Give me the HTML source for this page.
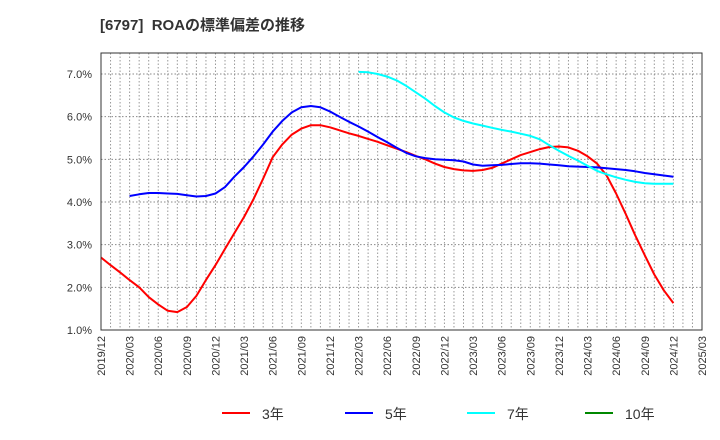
<!DOCTYPE html>
<html><head><meta charset="utf-8"><style>
body{margin:0;background:#fff;}
svg{display:block;font-family:"Liberation Sans","Noto Sans CJK JP",sans-serif;}
</style></head><body>
<svg id="chart" width="720" height="440" viewBox="0 0 720 440">
<text x="100" y="30" font-size="15" font-weight="bold" fill="#333">[6797]&#160; ROAの標準偏差の推移</text>
<g id="grid"></g>
<g id="series"></g>
<rect x="101" y="53" width="601" height="277" fill="none" stroke="#333" stroke-width="1"/>
<g id="axes"></g>
<g id="legend"></g>
</svg>
<script>
const xLabels=["2019/12","2020/03","2020/06","2020/09","2020/12","2021/03","2021/06","2021/09","2021/12","2022/03","2022/06","2022/09","2022/12","2023/03","2023/06","2023/09","2023/12","2024/03","2024/06","2024/09","2024/12","2025/03"];
const yTicks=[1,2,3,4,5,6,7];
const s3=[2.70,2.52,2.35,2.17,2.0,1.77,1.6,1.45,1.42,1.54,1.8,2.17,2.52,2.9,3.28,3.65,4.07,4.55,5.05,5.35,5.58,5.72,5.8,5.8,5.75,5.68,5.61,5.55,5.48,5.41,5.33,5.25,5.17,5.08,5.0,4.9,4.82,4.77,4.74,4.73,4.75,4.8,4.9,5.0,5.1,5.17,5.24,5.29,5.3,5.28,5.2,5.07,4.9,4.62,4.2,3.72,3.22,2.75,2.3,1.93,1.63];
const s5start=3;
const s5=[4.14,4.18,4.21,4.21,4.2,4.19,4.16,4.13,4.14,4.2,4.35,4.6,4.82,5.07,5.35,5.65,5.9,6.1,6.22,6.25,6.22,6.12,6.0,5.88,5.77,5.65,5.52,5.4,5.27,5.15,5.07,5.03,5.0,4.99,4.98,4.95,4.88,4.85,4.86,4.87,4.89,4.91,4.91,4.9,4.88,4.86,4.84,4.83,4.82,4.81,4.79,4.77,4.75,4.72,4.68,4.65,4.62,4.59];
const s7start=27;
const s7=[7.05,7.04,7.0,6.94,6.85,6.72,6.57,6.42,6.25,6.1,5.98,5.9,5.84,5.79,5.74,5.69,5.65,5.6,5.55,5.47,5.33,5.2,5.08,4.97,4.85,4.73,4.65,4.58,4.52,4.47,4.44,4.43,4.43,4.43];
const s10=[];
const NS="http://www.w3.org/2000/svg";
const L=101,R=702,T=53,B=330,months=63;
const xs=i=>L+(R-L)*i/months;
const ys=v=>B-(v-1)*(B-74)/6;
function mk(tag,attrs,parent){const e=document.createElementNS(NS,tag);for(const k in attrs)e.setAttribute(k,attrs[k]);parent.appendChild(e);return e;}
const grid=document.getElementById('grid'),axes=document.getElementById('axes'),ser=document.getElementById('series'),leg=document.getElementById('legend');
for(let i=1;i<months;i++){const l=mk('line',{x1:xs(i),x2:xs(i),y1:T,y2:B,stroke:'#999','stroke-width':1,'stroke-dasharray':'1.5,2'},grid);

}
yTicks.forEach(v=>{const l=mk('line',{x1:L,x2:R,y1:ys(v),y2:ys(v),stroke:'#888','stroke-width':1,'stroke-dasharray':'1.5,2'},grid);


const t=mk('text',{x:92,y:ys(v)+4,'text-anchor':'end','font-size':11,fill:'#333'},axes);


t.textContent=v.toFixed(1)+'%';});
xLabels.forEach((lab,k)=>{const x=xs(k*3);const t=mk('text',{transform:`translate(${x+4},336) rotate(-90)`,'text-anchor':'end','font-size':11,fill:'#333'},axes);


t.textContent=lab;});
function line(data,start,color,name){if(!data.length)return;const pts=data.map((v,i)=>xs(start+i).toFixed(1)+','+ys(v).toFixed(1)).join(' ');
const p=mk('polyline',{points:pts,fill:'none',stroke:color,'stroke-width':2,'stroke-linejoin':'round'},ser);

}
line(s3,0,'#f00','series-3yr');
line(s5,s5start,'#00f','series-5yr');
line(s7,s7start,'#0ff','series-7yr');
line(s10,0,'#080','series-10yr');
[['3年','#f00',222],['5年','#00f',345],['7年','#0ff',467],['10年','#080',585]].forEach(([n,c,x])=>{
const g=mk('g',{},leg);


mk('line',{x1:x,x2:x+28,y1:413,y2:413,stroke:c,'stroke-width':2},g);
const t=mk('text',{x:x+40,y:419,'font-size':14,fill:'#333'},g);t.textContent=n;});
</script>
</body></html>
